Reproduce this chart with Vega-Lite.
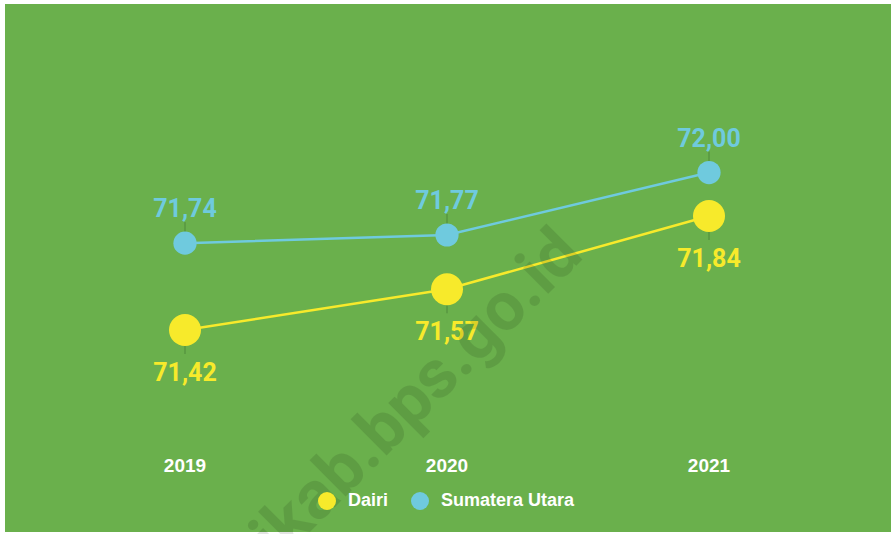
{
  "$schema": "https://vega.github.io/schema/vega-lite/v6.json",
  "width": 886,
  "height": 528,
  "autosize": {"type": "none"},
  "padding": {"left": 5, "top": 4, "right": 4, "bottom": 2},
  "background": "#ffffff",
  "config": {
    "view": {"stroke": null, "fill": "#6ab04c"},
    "locale": {"number": {"decimal": ",", "thousands": ".", "grouping": [3], "currency": ["Rp", ""]}}
  },
  "datasets": {
    "main": [
      {"year": 2019, "region": "Dairi", "value": 71.42},
      {"year": 2020, "region": "Dairi", "value": 71.57},
      {"year": 2021, "region": "Dairi", "value": 71.84},
      {"year": 2019, "region": "Sumatera Utara", "value": 71.74},
      {"year": 2020, "region": "Sumatera Utara", "value": 71.77},
      {"year": 2021, "region": "Sumatera Utara", "value": 72.00}
    ],
    "wm": [
      {"year": 2020.527, "value": 71.689, "text": "dairikab.bps.go.id"}
    ]
  },
  "encoding": {
    "x": {
      "field": "year",
      "type": "quantitative",
      "scale": {"domain": [2019, 2021], "range": [180, 704]},
      "axis": null
    },
    "y": {
      "field": "value",
      "type": "quantitative",
      "scale": {"domain": [70.6757, 72.6211], "nice": false, "zero": false},
      "axis": null
    }
  },
  "layer": [
    {
      "data": {"name": "main"},
      "transform": [{"filter": "datum.region === 'Dairi'"}],
      "mark": {"type": "text", "font": "Liberation Sans", "fontWeight": "bold", "fontSize": 19, "color": "#ffffff", "baseline": "middle"},
      "encoding": {
        "y": {"datum": 70.92},
        "text": {"field": "year", "type": "quantitative", "format": "d"}
      }
    },
    {
      "data": {"name": "main"},
      "mark": {"type": "line", "strokeWidth": 2.5},
      "encoding": {
        "color": {
          "field": "region",
          "type": "nominal",
          "scale": {"domain": ["Dairi", "Sumatera Utara"], "range": ["#f7ea2b", "#6fcade"]},
          "legend": {
            "orient": "none",
            "legendX": 313,
            "legendY": 488,
            "direction": "horizontal",
            "title": null,
            "padding": 0,
            "symbolType": "circle",
            "symbolSize": 324,
            "symbolStrokeWidth": 0,
            "symbolOpacity": 1,
            "labelFont": "Liberation Sans",
            "labelFontSize": 18,
            "labelFontWeight": "bold",
            "labelColor": "#ffffff",
            "labelOffset": 12,
            "columnPadding": 22
          }
        }
      }
    },
    {
      "data": {"name": "main"},
      "transform": [{"filter": "datum.region === 'Sumatera Utara'"}],
      "mark": {"type": "rule", "yOffset": -21, "y2Offset": -10, "color": "#4f8a3b", "strokeWidth": 1},
      "encoding": {"y2": {"field": "value"}}
    },
    {
      "data": {"name": "main"},
      "transform": [{"filter": "datum.region === 'Dairi'"}],
      "mark": {"type": "rule", "yOffset": 16, "y2Offset": 24, "color": "#4f8a3b", "strokeWidth": 1},
      "encoding": {"y2": {"field": "value"}}
    },
    {
      "data": {"name": "main"},
      "transform": [{"filter": "datum.region === 'Dairi'"}],
      "mark": {"type": "point", "filled": true, "opacity": 1, "size": 1024, "shape": "circle"},
      "encoding": {"color": {"field": "region", "type": "nominal"}}
    },
    {
      "data": {"name": "main"},
      "transform": [{"filter": "datum.region === 'Sumatera Utara'"}],
      "mark": {"type": "point", "filled": true, "opacity": 1, "size": 540, "shape": "circle"},
      "encoding": {"color": {"field": "region", "type": "nominal"}}
    },
    {
      "data": {"name": "main"},
      "transform": [{"filter": "datum.region === 'Sumatera Utara'"}],
      "mark": {"type": "text", "dy": -34, "font": "Roboto", "fontWeight": "bold", "fontSize": 25, "baseline": "middle"},
      "encoding": {
        "text": {"field": "value", "type": "quantitative", "format": ".2f"},
        "color": {"field": "region", "type": "nominal"}
      }
    },
    {
      "data": {"name": "main"},
      "transform": [{"filter": "datum.region === 'Dairi'"}],
      "mark": {"type": "text", "dy": 43, "font": "Roboto", "fontWeight": "bold", "fontSize": 25, "baseline": "middle"},
      "encoding": {
        "text": {"field": "value", "type": "quantitative", "format": ".2f"},
        "color": {"field": "region", "type": "nominal"}
      }
    },
    {
      "data": {"name": "wm"},
      "mark": {
        "type": "text",
        "font": "Roboto",
        "fontWeight": "bold",
        "fontSize": 68,
        "angle": -45,
        "align": "right",
        "baseline": "alphabetic",
        "color": "#000000",
        "opacity": 0.1
      },
      "encoding": {"text": {"field": "text"}}
    }
  ]
}
